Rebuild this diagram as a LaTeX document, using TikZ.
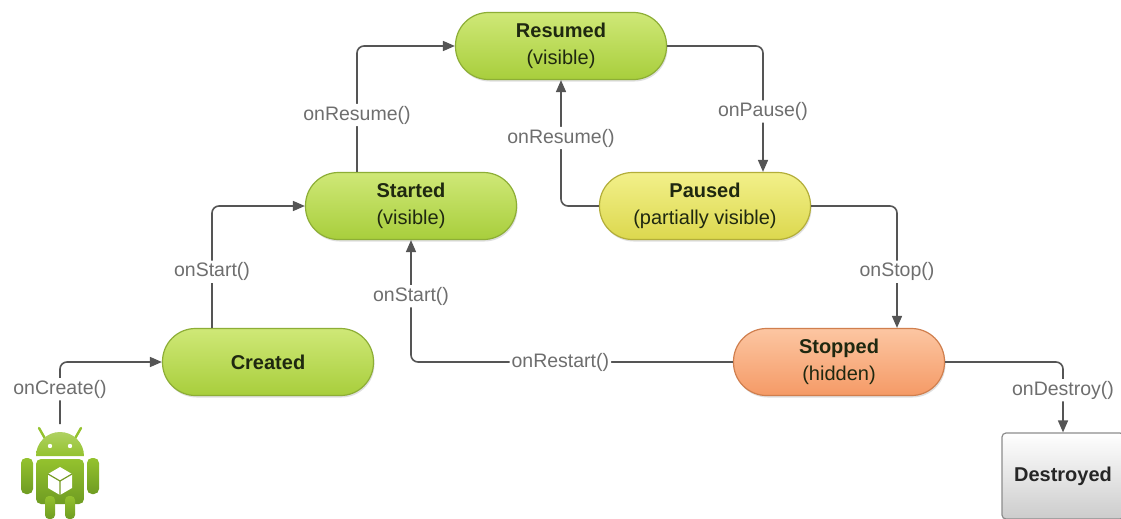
\documentclass[tikz,border=0pt]{standalone}
\usepackage{fontspec}
\setmainfont{Liberation Sans}
\usetikzlibrary{arrows.meta,shadows}
\definecolor{linec}{HTML}{555555}
\definecolor{labc}{HTML}{6E6E6E}
\definecolor{gtop}{HTML}{CFE877}
\definecolor{gbot}{HTML}{A8CE3C}
\definecolor{gbrd}{HTML}{8DAE36}
\definecolor{ytop}{HTML}{F2F08A}
\definecolor{ybot}{HTML}{DCD84E}
\definecolor{ybrd}{HTML}{B3AE3A}
\definecolor{otop}{HTML}{FCC6A2}
\definecolor{obot}{HTML}{F59A66}
\definecolor{obrd}{HTML}{D07F4E}
\definecolor{andr}{HTML}{94C22E}
\definecolor{andd}{HTML}{6F9C22}
\definecolor{txtc}{HTML}{1F2810}
\tikzset{
  state/.style={draw, line width=1.2pt, rounded corners=33pt, minimum width=211pt, minimum height=67pt,
    align=center, font=\fontsize{20}{27}\selectfont, text=txtc,
    drop shadow={opacity=0.25, shadow xshift=1pt, shadow yshift=-2pt}},
  greenst/.style={state, draw=gbrd, top color=gtop, bottom color=gbot},
  yellowst/.style={state, draw=ybrd, top color=ytop, bottom color=ybot},
  orangest/.style={state, draw=obrd, top color=otop, bottom color=obot},
  graybox/.style={draw=black!45, line width=1.2pt, rounded corners=4pt, minimum width=122pt, minimum height=86pt,
    top color=white, bottom color=black!20, font=\fontsize{20}{24}\selectfont\bfseries, text=black!85,
    drop shadow={opacity=0.25, shadow xshift=1pt, shadow yshift=-2pt}},
  conn/.style={draw=linec, line width=1.6pt, rounded corners=7pt, -{Triangle[length=12pt,width=10pt]}},
  lab/.style={fill=white, inner sep=2pt, text=labc, font=\fontsize{19.5}{22}\selectfont}
}
\begin{document}
\begin{tikzpicture}[x=1pt,y=-1pt]
\useasboundingbox (0,0) rectangle (1121,519);
\fill[white] (0,0) rectangle (1121,519);

% states
\node[greenst]  (resumed) at (561,46)  {\textbf{Resumed}\\(visible)};
\node[greenst]  (started) at (411,206) {\textbf{Started}\\(visible)};
\node[yellowst] (paused)  at (705,206) {\textbf{Paused}\\(partially visible)};
\node[greenst]  (created) at (268,362) {\textbf{Created}};
\node[orangest] (stopped) at (839,362) {\textbf{Stopped}\\(hidden)};
\node[graybox]  (destroyed) at (1063,476) {Destroyed};

% android icon
\coordinate (andtop) at (60,424);
\begin{scope}
  \draw[andr, line width=2.4pt, line cap=round] (47,442) -- (39,428);
  \draw[andr, line width=2.4pt, line cap=round] (73,442) -- (81,428);
  \shade[top color=andr!75!white, bottom color=andr] (36,456) arc[start angle=180, end angle=360, radius=24] -- cycle;
  \fill[white] (50,446) circle[radius=2.2];
  \fill[white] (70,446) circle[radius=2.2];
  \shade[top color=andr, bottom color=andd, rounded corners=5pt] (36,459) rectangle (84,504);
  \shade[top color=andr, bottom color=andd, rounded corners=5pt] (21,458) rectangle (33,494);
  \shade[top color=andr, bottom color=andd, rounded corners=5pt] (87,458) rectangle (99,494);
  \shade[top color=andr, bottom color=andd, rounded corners=4pt] (45,496) rectangle (55,519);
  \shade[top color=andr, bottom color=andd, rounded corners=4pt] (65,496) rectangle (75,519);
  \fill[white] (60,467) -- (72,474) -- (72,488) -- (60,495) -- (48,488) -- (48,474) -- cycle;
  \draw[andr!80!black, line width=1.2pt] (48,474) -- (60,481) -- (72,474) (60,481) -- (60,495);
\end{scope}

% connectors
\draw[conn] (andtop) |- node[lab, pos=0.28] {onCreate()} (created.west);
\draw[conn] ([xshift=-56pt]created.north) |- node[lab, pos=0.23] {onStart()} (started.west);
\draw[conn] ([xshift=-54pt]started.north) |- node[lab, pos=0.226] {onResume()} (resumed.west);
\draw[conn] (resumed.east) -| node[lab, pos=0.76] {onPause()} ([xshift=58pt]paused.north);
\draw[conn] (paused.west) -| node[lab, pos=0.77] {onResume()} (resumed.south);
\draw[conn] (paused.east) -| node[lab, pos=0.77] {onStop()} ([xshift=58pt]stopped.north);
\draw[conn] (stopped.west) -| node[lab, pos=0.268] {onRestart()} node[lab, pos=0.77] {onStart()} (started.south);
\draw[conn] (stopped.east) -| node[lab, pos=0.70] {onDestroy()} (destroyed.north);
\end{tikzpicture}
\end{document}
